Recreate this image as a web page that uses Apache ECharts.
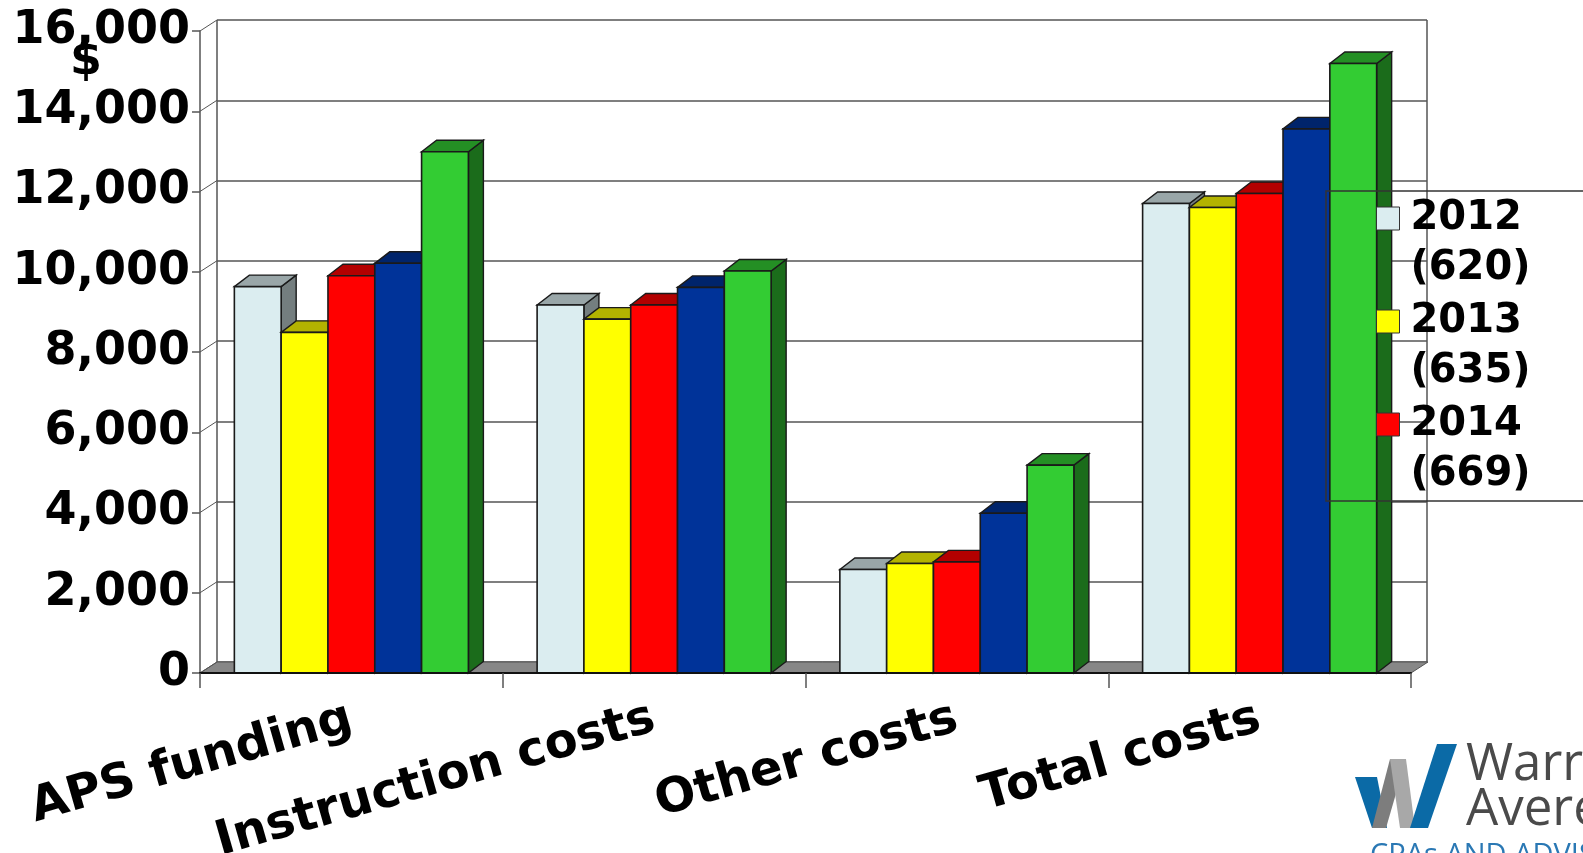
<!DOCTYPE html>
<html>
<head>
<meta charset="utf-8">
<script src="https://cdn.jsdelivr.net/npm/echarts@6/dist/echarts.min.js"></script>
<style>
html,body{margin:0;padding:0;background:#fff;}
#chart{width:1583px;height:853px;}
</style>
</head>
<body>
<div id="chart"></div>
<script>
// ---- data ----
const categories = ['APS funding', 'Instruction costs', 'Other costs', 'Total costs'];
const seriesNames = ['2012', '2013', '2014', '2015', '2016'];
const legendNames = ['2012', '2013', '2014'];
const legendCounts = ['620', '635', '669'];
const s2012 = [9630, 9170, 2580, 11700];
const s2013 = [8490, 8820, 2730, 11600];
const s2014 = [9900, 9170, 2770, 11950];
const s2015 = [10210, 9610, 3980, 13560];
const s2016 = [12990, 10020, 5180, 15190];
const yTicks = [0, 2000, 4000, 6000, 8000, 10000, 12000, 14000, 16000];
const yAxisName = '$';

// ---- styling ----
const colors = ['#dbedf0', '#ffff00', '#ff0000', '#003399', '#33cc33'];
const FONT = 'DejaVu Sans';
const DX = 15, DY = -11.5;       // bar depth
const WDX = 17, WDY = -11;       // wall / floor depth
const GROUP_FRAC = 0.773;

function shade(hex, f) {
  const n = parseInt(hex.slice(1), 16);
  const r = Math.round(((n >> 16) & 255) * f);
  const g = Math.round(((n >> 8) & 255) * f);
  const b = Math.round((n & 255) * f);
  return 'rgb(' + r + ',' + g + ',' + b + ')';
}

function barRenderer(idx, color) {
  return function (params, api) {
    const cat = api.value(0), val = api.value(1);
    const base = api.coord([cat, 0]);
    const top = api.coord([cat, val]);
    const band = api.size([1, 0])[0];
    const gw = band * GROUP_FRAC;
    const bw = gw / seriesNames.length;
    const x0 = base[0] - gw / 2 + idx * bw;
    const x1 = x0 + bw;
    const y0 = base[1], y1 = top[1];
    const stroke = '#1a1a1a';
    return {
      type: 'group',
      children: [
        { type: 'polygon', shape: { points: [[x1, y1], [x1 + DX, y1 + DY], [x1 + DX, y0 + DY], [x1, y0]] },
          style: { fill: shade(color, 0.53), stroke: stroke, lineWidth: 1.4 } },
        { type: 'polygon', shape: { points: [[x0, y1], [x1, y1], [x1 + DX, y1 + DY], [x0 + DX, y1 + DY]] },
          style: { fill: shade(color, 0.7), stroke: stroke, lineWidth: 1.4 } },
        { type: 'rect', shape: { x: x0, y: y1, width: bw, height: y0 - y1 },
          style: { fill: color, stroke: stroke, lineWidth: 1.6 } }
      ]
    };
  };
}

const allSeries = [s2012, s2013, s2014, s2015, s2016];
const barSeries = allSeries.map(function (arr, i) {
  return {
    name: seriesNames[i],
    type: 'custom',
    xAxisIndex: 0, yAxisIndex: 0,
    z: 3,
    itemStyle: { color: colors[i] },
    encode: { x: 0, y: 1 },
    data: arr.map(function (v, k) { return [k, v]; }),
    renderItem: barRenderer(i, colors[i])
  };
});

const floorSeries = {
  type: 'custom', xAxisIndex: 0, yAxisIndex: 0, z: 1, silent: true,
  data: [[0, 0]],
  renderItem: function (params, api) {
    const cs = params.coordSys;
    const yb = cs.y + cs.height;
    return { type: 'polygon',
      shape: { points: [[cs.x, yb], [cs.x + cs.width, yb], [cs.x + cs.width + WDX, yb + WDY], [cs.x + WDX, yb + WDY]] },
      style: { fill: '#878787', stroke: '#555', lineWidth: 1 } };
  }
};

const wallSeries = {
  type: 'custom', xAxisIndex: 0, yAxisIndex: 0, z: 1, silent: true,
  data: yTicks.map(function (v) { return [0, v]; }),
  renderItem: function (params, api) {
    const cs = params.coordSys;
    const y = api.coord([0, api.value(1)])[1];
    return { type: 'line', shape: { x1: cs.x, y1: y, x2: cs.x + WDX, y2: y + WDY },
      style: { stroke: '#555', lineWidth: 1 } };
  }
};

const chart = echarts.init(document.getElementById('chart'), null, { renderer: 'canvas' });
chart.setOption({
  animation: false,
  backgroundColor: '#fff',
  grid: [
    { left: 200, right: 172, top: 31, bottom: 180, containLabel: false, outerBoundsMode: 'none' },
    { left: 217, right: 156, top: 20, bottom: 191, containLabel: false, outerBoundsMode: 'none' }
  ],
  xAxis: [
    { gridIndex: 0, type: 'category', data: categories, z: 5,
      axisLine: { show: true, lineStyle: { color: '#111', width: 2 } },
      axisTick: { show: true, length: 15, lineStyle: { color: '#555', width: 1.5 } },
      axisLabel: { rotate: 16, margin: 45, interval: 0, fontSize: 48, fontWeight: 'bold', color: '#000', fontFamily: FONT },
      splitLine: { show: false } },
    { gridIndex: 1, type: 'value', min: 0, max: 1, interval: 1,
      axisLine: { show: false }, axisTick: { show: false }, axisLabel: { show: false },
      splitLine: { show: true, lineStyle: { color: '#555', width: 1.5 } } }
  ],
  yAxis: [
    { gridIndex: 0, type: 'value', min: yTicks[0], max: yTicks[yTicks.length - 1], interval: yTicks[1] - yTicks[0],
      axisLine: { show: true, lineStyle: { color: '#555', width: 1.5 } },
      axisTick: { show: true, length: 8, lineStyle: { color: '#555', width: 1.5 } },
      axisLabel: { margin: 10, fontSize: 46, fontWeight: 'bold', color: '#000', fontFamily: FONT,
        formatter: function (v) { return v.toLocaleString('en-US'); } },
      splitLine: { show: false } },
    { gridIndex: 1, type: 'value', min: yTicks[0], max: yTicks[yTicks.length - 1], interval: yTicks[1] - yTicks[0],
      axisLine: { show: false }, axisTick: { show: false }, axisLabel: { show: false },
      splitLine: { show: true, lineStyle: { color: '#555', width: 1.5 } } }
  ],
  legend: {
    data: legendNames,
    orient: 'vertical',
    left: 1376, top: 143.5,
    padding: 0,
    itemGap: -47,
    itemWidth: 23, itemHeight: 23,
    icon: 'rect',
    selectedMode: false,
    itemStyle: { borderColor: '#333', borderWidth: 1 },
    textStyle: { fontSize: 40, fontWeight: 'bold', color: '#000', fontFamily: FONT, lineHeight: 50, padding: [0, 0, 0, 6] },
    formatter: function (name) {
      const i = legendNames.indexOf(name);
      return ' \n' + name + '\n(' + legendCounts[i] + ')';
    }
  },
  graphic: [
    { type: 'text', x: 86, y: 62, z: 10,
      style: { text: yAxisName, fontSize: 46, fontWeight: 'bold', fontFamily: FONT, fill: '#000', align: 'center', verticalAlign: 'middle' } },
    { type: 'rect', x: 1326, y: 191, z: 10, silent: true,
      shape: { width: 300, height: 310 },
      style: { fill: 'none', stroke: '#333', lineWidth: 1.5 } },
    // logo
    { type: 'polygon', z: 10, shape: { points: [[1355, 777], [1377, 777], [1387, 828], [1372, 828]] }, style: { fill: '#0b6aa6' } },
    { type: 'polygon', z: 10, shape: { points: [[1372, 828], [1386, 828], [1406, 759], [1390, 759]] }, style: { fill: '#7d7d7d' } },
    { type: 'polygon', z: 10, shape: { points: [[1390, 759], [1406, 759], [1415, 828], [1400, 828]] }, style: { fill: '#a8a8a8' } },
    { type: 'polygon', z: 10, shape: { points: [[1410, 828], [1428, 828], [1457, 744], [1437, 744]] }, style: { fill: '#0b6aa6' } },
    { type: 'text', x: 1466, y: 765, z: 10,
      style: { text: 'Warren', fontSize: 51, fontFamily: 'Open Sans', fill: '#4a4a4a', verticalAlign: 'middle' } },
    { type: 'text', x: 1466, y: 810, z: 10,
      style: { text: 'Averett', fontSize: 51, fontFamily: 'Open Sans', fill: '#4a4a4a', verticalAlign: 'middle' } },
    { type: 'text', x: 1370, y: 841, z: 10,
      style: { text: 'CPAs AND ADVISORS', fontSize: 29, fontFamily: 'Open Sans', fill: '#2a78b4', verticalAlign: 'top' } }
  ],
  series: [floorSeries, wallSeries].concat(barSeries)
});
</script>
</body>
</html>
